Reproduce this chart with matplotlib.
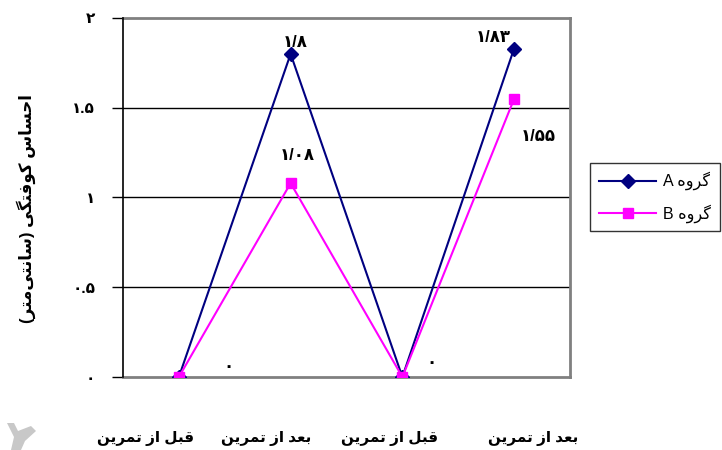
import matplotlib
matplotlib.use('Agg')
import matplotlib.pyplot as plt
from matplotlib.lines import Line2D
from matplotlib.patches import Polygon

# series
categories = ['قبل از تمرین', 'بعد از تمرین', 'قبل از تمرین', 'بعد از تمرین']
group_a = [0, 1.8, 0, 1.83]
group_b = [0, 1.08, 0, 1.55]
series_names = ['گروه', 'گروه']
series_tags = ['A', 'B']
y_ticks = [0, 0.5, 1, 1.5, 2]
y_title = 'احساس کوفتگی (سانتی\u200cمتر)'

# arabic letters -> first presentation form (isolated, final, initial, medial follow)
DUAL = {'ب': 0xFE8F, 'ت': 0xFE95, 'ح': 0xFEA1, 'س': 0xFEB1, 'ع': 0xFEC9,
        'ف': 0xFED1, 'ق': 0xFED5, 'ل': 0xFEDD, 'م': 0xFEE1, 'ن': 0xFEE5,
        'ه': 0xFEE9, 'ی': 0xFBFC, 'ک': 0xFB8E, 'گ': 0xFB92}
RIGHT = {'ا': 0xFE8D, 'د': 0xFEA9, 'ر': 0xFEAD, 'ز': 0xFEAF, 'و': 0xFEED}


def rtl(text):
    out = []
    for i, c in enumerate(text):
        if c not in DUAL and c not in RIGHT:
            if c != '\u200c':
                out.append(c)
            continue
        prev = text[i - 1] if i > 0 else ''
        nxt = text[i + 1] if i + 1 < len(text) else ''
        jp = prev in DUAL
        jn = c in DUAL and (nxt in DUAL or nxt in RIGHT)
        base = DUAL.get(c, RIGHT.get(c))
        form = {(False, False): 0, (True, False): 1, (False, True): 2, (True, True): 3}[(jp, jn)]
        out.append(chr(base + form))
    return ''.join(reversed(out)).translate(str.maketrans('()', ')('))


def fa(v, sep='/'):
    s = f'{v:g}'.replace('.', sep)
    return s.translate(str.maketrans('0123456789', '۰۱۲۳۴۵۶۷۸۹'))


plt.rcParams['font.family'] = ['Liberation Sans', 'DejaVu Sans']

fig = plt.figure(figsize=(7.22, 4.5), dpi=100)
ax = fig.add_axes([123 / 722, 1 - 377 / 450, (570 - 123) / 722, (377 - 18) / 450])

x = list(range(len(categories)))
ax.plot(x, group_a, color='#000080', lw=1.5, marker='D', ms=7, zorder=3)
ax.plot(x, group_b, color='#FF00FF', lw=1.5, marker='s', ms=7.5, zorder=4)

ax.set_xlim(-0.5, 3.5)
ax.set_ylim(0, 2)
ax.set_yticks(y_ticks)
ax.set_yticklabels([fa(t, '.') for t in y_ticks], fontweight='bold', fontsize=11)
ax.tick_params(axis='y', direction='out', length=8, width=1, pad=12)
ax.set_xticks([])
for t in y_ticks[1:-1]:
    ax.axhline(t, color='black', lw=1, zorder=1)

for side in ['top', 'right', 'bottom']:
    ax.spines[side].set_color('#808080')
    ax.spines[side].set_linewidth(2)
ax.spines['left'].set_linewidth(1.2)
ax.spines['left'].set_zorder(5)

# value labels (pixel offsets from each point)
a_offsets = [(50, 11), (5, 11), (29, 14), (-21, 11)]
b_offsets = [None, (7, 28), None, (24, -38)]
for xi, v, off in zip(x, group_a, a_offsets):
    ax.annotate(fa(v), (xi, v), xytext=off, textcoords='offset pixels',
                ha='center', va='center', fontsize=12, fontweight='bold', zorder=6)
for xi, v, off in zip(x, group_b, b_offsets):
    if off is None:
        continue
    ax.annotate(fa(v), (xi, v), xytext=off, textcoords='offset pixels',
                ha='center', va='center', fontsize=12, fontweight='bold', zorder=6)

# category labels, sitting a little off the points
label_x = [146, 266, 390, 533]
for px, name in zip(label_x, categories):
    fig.text(px / 722, 1 - 438 / 450, rtl(name), ha='center', va='center',
             fontsize=11, fontweight='bold')

fig.text(26 / 722, 1 - 209 / 450, rtl(y_title), rotation=90, ha='center', va='center',
         fontsize=12, fontweight='bold')

handles = [Line2D([], [], color='#000080', lw=1.5, marker='D', ms=7),
           Line2D([], [], color='#FF00FF', lw=1.5, marker='s', ms=7.5)]
labels = [tag + ' ' + rtl(name) for tag, name in zip(series_tags, series_names)]
leg = fig.legend(handles, labels, loc='upper left', bbox_to_anchor=(590 / 722, 1 - 163 / 450),
                 bbox_transform=fig.transFigure, borderaxespad=0, fancybox=False,
                 edgecolor='black', fontsize=11.5, handlelength=3.6, labelspacing=0.85,
                 borderpad=0.55, handletextpad=0.45)
leg.get_frame().set_linewidth(1)

# grey corner mark
corner = [(7, 423), (14, 423), (18, 431), (31, 426), (36, 431), (25, 441),
          (21, 450), (11, 450), (14, 437)]
fig.patches.append(Polygon([(px / 722, 1 - py / 450) for px, py in corner],
                           closed=True, transform=fig.transFigure, color='#C8C8C8', lw=0))

fig.savefig('out.png', dpi=100)
